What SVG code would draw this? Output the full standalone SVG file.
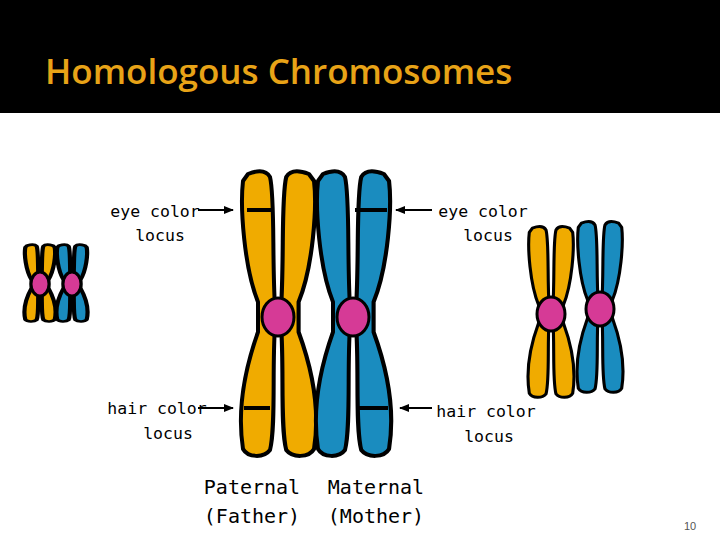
<svg xmlns="http://www.w3.org/2000/svg" xmlns:xlink="http://www.w3.org/1999/xlink" width="720" height="540" viewBox="0 0 720 540">
<defs>
<style>
.y{fill:#f0ab00;stroke:#000;stroke-width:4;stroke-linejoin:round}
.b{fill:#1a8cbf;stroke:#000;stroke-width:4;stroke-linejoin:round}
.c{fill:#d63a96;stroke:#000;stroke-width:3}
.t{font-family:"DejaVu Sans Mono",monospace;font-size:16.5px;fill:#000;text-anchor:middle}
.band{stroke:#000;stroke-width:4}
.ar{stroke:#000;stroke-width:2;marker-end:url(#ah)}
</style>
<marker id="ah" markerWidth="10" markerHeight="8" refX="9" refY="4" orient="auto" markerUnits="userSpaceOnUse"><path d="M0,0 L10,4 L0,8 Z"/></marker>
<path id="ch" d="M -30,-143 C -20,-147 -12,-147 -8,-140 C -3,-120 -6,-60 -3,-10 L -3,10 C -6,50 -2,110 -8,133 C -14,141 -30,141 -35,132 C -40,100 -36,60 -20,15 L -20,-15 C -34,-50 -38,-110 -35,-136 Z"/>
</defs>
<rect width="720" height="540" fill="#fff"/>
<rect width="720" height="113" fill="#000"/>
<text x="45" y="84" font-family="Open Sans, sans-serif" font-weight="600" font-size="35" fill="#e8a317">Homologous Chromosomes</text>

<g id="small-left">
<g transform="translate(40,284) scale(0.42,0.27)"><use xlink:href="#ch" class="y" style="stroke-width:10"/><use xlink:href="#ch" class="y" transform="scale(-1,1)" style="stroke-width:10"/></g>
<g transform="translate(72,284) scale(0.42,0.27)"><use xlink:href="#ch" class="b" style="stroke-width:10"/><use xlink:href="#ch" class="b" transform="scale(-1,1)" style="stroke-width:10"/></g>
<ellipse class="c" cx="40" cy="284" rx="9" ry="12"/>
<ellipse class="c" cx="72" cy="284" rx="9" ry="12"/>
</g>

<g id="paternal">
<g transform="translate(278,317)"><use xlink:href="#ch" class="y"/><use xlink:href="#ch" class="y" transform="scale(-1.03,1)"/></g>
<line class="band" x1="247" y1="210" x2="271" y2="210"/>
<line class="band" x1="244" y1="408" x2="270" y2="408"/>
<ellipse class="c" cx="278" cy="317" rx="16" ry="19"/>
</g>
<g id="maternal">
<g transform="translate(353,317)"><use xlink:href="#ch" class="b"/><use xlink:href="#ch" class="b" transform="scale(-1.03,1)"/></g>
<line class="band" x1="355" y1="210" x2="387" y2="210"/>
<line class="band" x1="357" y1="408" x2="388" y2="408"/>
<ellipse class="c" cx="353" cy="317" rx="16" ry="19"/>
</g>

<g id="small-right">
<g transform="translate(551,314) scale(0.62,0.6)"><use xlink:href="#ch" class="y" style="stroke-width:5"/><use xlink:href="#ch" class="y" transform="scale(-1,1)" style="stroke-width:5"/></g>
<g transform="translate(600,309) scale(0.62,0.6)"><use xlink:href="#ch" class="b" style="stroke-width:5"/><use xlink:href="#ch" class="b" transform="scale(-1,1)" style="stroke-width:5"/></g>
<ellipse class="c" cx="551" cy="314" rx="14" ry="17"/>
<ellipse class="c" cx="600" cy="309" rx="14" ry="17"/>
</g>

<g id="connectors">
<line class="ar" x1="198" y1="210" x2="233" y2="210"/>
<line class="ar" x1="198" y1="408" x2="233" y2="408"/>
<line class="ar" x1="432" y1="210" x2="396" y2="210"/>
<line class="ar" x1="432" y1="408" x2="400" y2="408"/>
</g>

<g id="labels">
<text class="t" x="155" y="217">eye color</text>
<text class="t" x="160" y="241">locus</text>
<text class="t" x="483" y="217">eye color</text>
<text class="t" x="488" y="241">locus</text>
<text class="t" x="157" y="414">hair color</text>
<text class="t" x="168" y="439">locus</text>
<text class="t" x="486" y="417">hair color</text>
<text class="t" x="489" y="442">locus</text>
<text class="t" x="252" y="494" style="font-size:20px">Paternal</text>
<text class="t" x="252" y="523" style="font-size:20px">(Father)</text>
<text class="t" x="376" y="494" style="font-size:20px">Maternal</text>
<text class="t" x="376" y="523" style="font-size:20px">(Mother)</text>
<text x="690" y="530" font-family="Liberation Sans, sans-serif" font-size="11" text-anchor="middle" fill="#555">10</text>
</g>
</svg>
